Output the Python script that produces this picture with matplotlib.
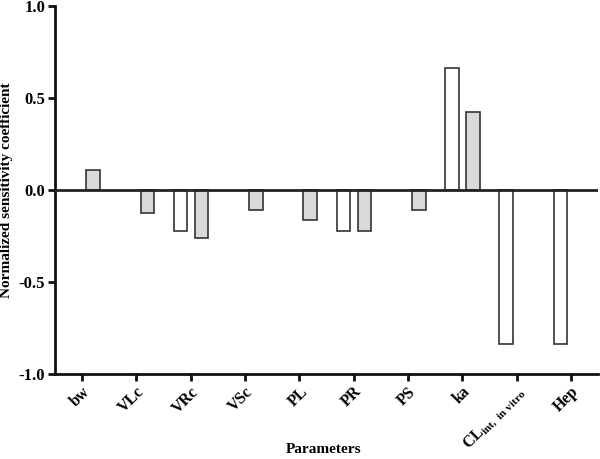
import numpy as np
import matplotlib
matplotlib.use("Agg")
import matplotlib.pyplot as plt

params = ["bw", "VLc", "VRc", "VSc", "PL", "PR", "PS", "ka",
          r"CL$_{\mathregular{int,\ in\ vitro}}$", "Hep"]
# white bars (first series) and grey bars (second series); nan = no bar
white_vals = [np.nan, np.nan, -0.225, np.nan, np.nan, -0.225, np.nan, 0.665, -0.837, -0.837]
grey_vals = [0.109, -0.123, -0.263, -0.109, -0.163, -0.22, -0.109, 0.424, np.nan, np.nan]

plt.rcParams['font.family'] = ['Liberation Serif', 'DejaVu Serif']
plt.rcParams['font.weight'] = 'bold'
plt.rcParams['mathtext.fontset'] = 'custom'
plt.rcParams['mathtext.rm'] = 'Liberation Serif:bold'
plt.rcParams['mathtext.it'] = 'Liberation Serif:bold'

fig = plt.figure(figsize=(6, 4.59), dpi=100)
ax = fig.add_axes([0.0917, 0.185, 0.905, 0.802])

x = np.arange(len(params))
w = 0.25
ax.bar(x - 0.19, white_vals, w, color="white", edgecolor="#333333", linewidth=1.2, zorder=2)
ax.bar(x + 0.2, grey_vals, w, color="#d9d9d9", edgecolor="#333333", linewidth=1.2, zorder=2)
ax.axhline(0, color="#222222", linewidth=2, zorder=3)

ax.set_xlim(-0.5, len(params) - 0.5)
ax.set_ylim(-1.0, 1.0)
ax.set_yticks([-1.0, -0.5, 0.0, 0.5, 1.0])
ax.set_yticklabels(["-1.0", "-0.5", "0.0", "0.5", "1.0"], fontsize=12, fontweight='bold')
ax.set_xticks(x)
ax.set_xticklabels(params, rotation=45, ha='right', rotation_mode='anchor', fontsize=11.5, fontweight='bold')

for s in ["top", "right"]:
    ax.spines[s].set_visible(False)
for s in ["left", "bottom"]:
    ax.spines[s].set_linewidth(2)
    ax.spines[s].set_color("#111111")
ax.tick_params(axis='both', direction='out', length=5, width=2, color="#111111", pad=2)

ax.set_ylabel("Normalized sensitivity coefficient", fontsize=11, fontweight='bold', labelpad=4)
fig.text(0.54, 0.012, "Parameters", ha='center', va='baseline', fontsize=11, fontweight='bold')

fig.savefig("out.png", dpi=100)
